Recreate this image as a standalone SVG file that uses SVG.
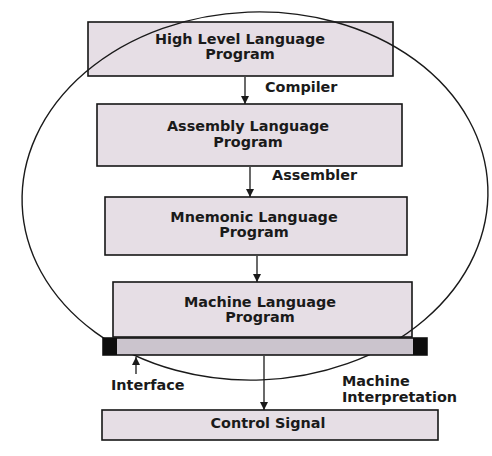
<svg xmlns="http://www.w3.org/2000/svg" width="492" height="456" viewBox="0 0 492 456">
<style>
.box{fill:#e6dee5;stroke:#161616;stroke-width:1.6}
.bar{fill:#cbc4cd;stroke:#161616;stroke-width:1.6}
.t{font-family:"DejaVu Sans",sans-serif;font-weight:bold;font-size:14.4px;fill:#1a1a1a;text-anchor:middle}
.l{font-family:"DejaVu Sans",sans-serif;font-weight:bold;font-size:14.4px;fill:#1a1a1a}
.c{stroke:#1a1a1a;stroke-width:1.3;fill:none}
</style>
<defs>
<marker id="ah" markerUnits="userSpaceOnUse" markerWidth="9" markerHeight="9" refX="8" refY="4" orient="auto">
<path d="M0,0 L8,4 L0,8 z" fill="#1a1a1a"/>
</marker>
</defs>
<rect width="492" height="456" fill="#ffffff"/>
<g id="n1"><rect class="box" x="88" y="22" width="305" height="54"/><text class="t" x="240" y="44">High Level Language</text><text class="t" x="240" y="59">Program</text></g>
<g id="n2"><rect class="box" x="97" y="104" width="305" height="62"/><text class="t" x="248" y="131">Assembly Language</text><text class="t" x="248" y="147">Program</text></g>
<g id="n3"><rect class="box" x="105" y="197" width="302" height="58"/><text class="t" x="254" y="222">Mnemonic Language</text><text class="t" x="254" y="237">Program</text></g>
<g id="n4"><rect class="box" x="113" y="282" width="299" height="55"/><text class="t" x="260" y="307">Machine Language</text><text class="t" x="260" y="322">Program</text></g>
<g id="boundary"><ellipse cx="255" cy="196" rx="233" ry="184" transform="rotate(-2.2 255 196)" fill="none" stroke="#1a1a1a" stroke-width="1.4"/></g>
<g id="interface"><rect class="bar" x="103" y="338" width="324" height="17"/><rect x="103" y="338" width="14" height="17" fill="#0d0d0d"/><rect x="413" y="338" width="14" height="17" fill="#0d0d0d"/></g>
<g id="n5"><rect class="box" x="102" y="410" width="336" height="30"/><text class="t" x="268" y="428">Control Signal</text></g>
<g id="connectors">
<line class="c" x1="245" y1="77" x2="245" y2="104" marker-end="url(#ah)"/>
<line class="c" x1="250" y1="167" x2="250" y2="197" marker-end="url(#ah)"/>
<line class="c" x1="257" y1="256" x2="257" y2="282" marker-end="url(#ah)"/>
<line class="c" x1="264" y1="356" x2="264" y2="410" marker-end="url(#ah)"/>
<line class="c" x1="136" y1="374" x2="136" y2="357" marker-end="url(#ah)"/>
</g>
<g id="labels">
<text class="l" x="265" y="92">Compiler</text>
<text class="l" x="272" y="180">Assembler</text>
<text class="l" x="111" y="390">Interface</text>
<text class="l" x="342" y="386">Machine</text>
<text class="l" x="342" y="402">Interpretation</text>
</g>
</svg>
